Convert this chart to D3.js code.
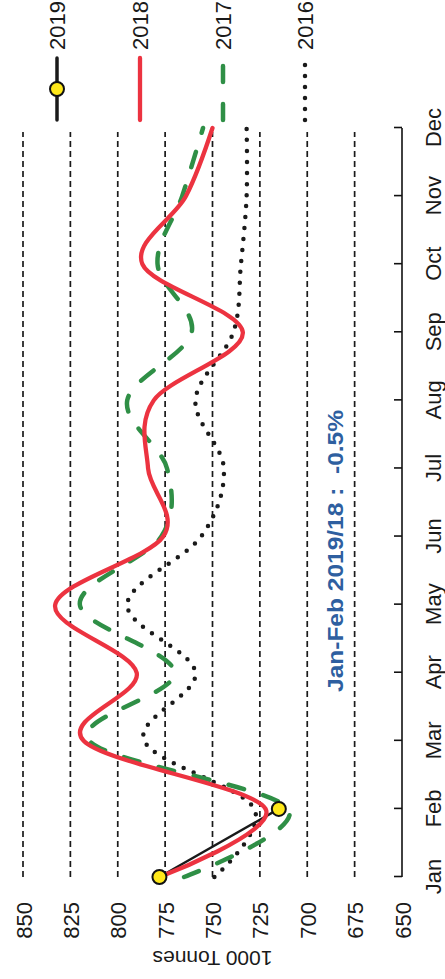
<!DOCTYPE html>
<html>
<head>
<meta charset="utf-8">
<script src="https://cdn.jsdelivr.net/npm/d3@7"></script>
<style>
  html, body { margin: 0; padding: 0; background: #fff; }
  svg { display: block; }
  text { font-family: "Liberation Sans", Arial, sans-serif; }
</style>
</head>
<body>
<svg id="chart" width="445" height="979"></svg>
<script>
// ---- data ----
const months = ["Jan","Feb","Mar","Apr","May","Jun","Jul","Aug","Sep","Oct","Nov","Dec"];
const valueTicks = [650, 675, 700, 725, 750, 775, 800, 825, 850];
const s2019 = [778, 715];
const s2018 = [778, 722, 818, 790, 833, 776, 784, 781, 734, 787, 764, 750];
const s2017 = [765, 710, 815, 770, 820, 777, 774, 795, 761, 779, 766, 755];
const s2016 = [749, 728, 786, 759, 795, 756, 744, 759, 739, 735, 732, 732];
const legendLabels = ["2019", "2018", "2017", "2016"];
const yTitle = "1000 Tonnes";
const note = "Jan-Feb 2019/18 :  -0.5%";

// ---- layout (chart drawn in an unrotated 979x445 frame, then turned 90° CCW) ----
const W = 979, H = 445;
const svg = d3.select("#chart");
const g = svg.append("g").attr("transform", `translate(0,${W}) rotate(-90)`);

const x = d3.scalePoint().domain(months).range([102, 851]);
const y = d3.scaleLinear().domain([650, 850]).range([402, 23]);

// gridlines
g.append("g").selectAll("line")
  .data(valueTicks.filter(v => v > 650))
  .join("line")
  .attr("x1", x("Jan")).attr("x2", x("Dec") - 4)
  .attr("y1", d => y(d)).attr("y2", d => y(d))
  .attr("stroke", "#1a1a1a").attr("stroke-width", 1.7)
  .attr("stroke-dasharray", "6,4");

// category axis
const axis = d3.axisBottom(x).tickSize(8).tickSizeOuter(0).tickPadding(0);
const ax = g.append("g").attr("transform", `translate(0,${y(650)})`).call(axis);
ax.select(".domain").attr("stroke", "#111").attr("stroke-width", 1.6)
  .attr("d", `M${x("Jan")},0H${x("Dec")}`);
ax.selectAll(".tick line").attr("y2", -8).attr("stroke", "#111").attr("stroke-width", 1.6);
ax.selectAll(".tick text").attr("y", 39).attr("dy", 0)
  .attr("font-size", 22).attr("fill", "#1a1a1a")
  .attr("font-family", "Liberation Sans, Arial, sans-serif");

// value labels
const vAxis = d3.axisLeft(y).tickValues(valueTicks).tickSize(0).tickPadding(0);
const vx = g.append("g").attr("transform", "translate(77,1)").call(vAxis);
vx.select(".domain").remove();
vx.selectAll(".tick text").attr("font-size", 22).attr("fill", "#1a1a1a")
  .attr("font-family", "Liberation Sans, Arial, sans-serif");

// axis title
g.append("text")
  .attr("transform", `translate(21,${(y(650) + y(850)) / 2}) rotate(-90)`)
  .attr("text-anchor", "middle").attr("dy", "0.35em")
  .attr("font-size", 21).attr("fill", "#1a1a1a")
  .text(yTitle);

// series
const line = d3.line()
  .x((d, i) => x(months[i]))
  .y(d => y(d))
  .curve(d3.curveCardinal.tension(0));

const styles = {
  "2016": { stroke: "#1a1a1a", width: 4.5, dash: "0,11", cap: "round" },
  "2017": { stroke: "#2f8f46", width: 4.5, dash: "16,20", cap: "round" },
  "2018": { stroke: "#ec3340", width: 4.3, dash: null,    cap: "round" },
  "2019": { stroke: "#1a1a1a", width: 2.5, dash: null,    cap: "round" }
};

function drawSeries(data, key, curve) {
  const st = styles[key];
  g.append("path")
    .datum(data)
    .attr("fill", "none")
    .attr("stroke", st.stroke)
    .attr("stroke-width", st.width)
    .attr("stroke-linecap", st.cap)
    .attr("stroke-linejoin", "round")
    .attr("stroke-dasharray", st.dash)
    .attr("d", curve ? line : d3.line().x((d, i) => x(months[i])).y(d => y(d)));
}

drawSeries(s2016, "2016", true);
drawSeries(s2017, "2017", true);
drawSeries(s2019, "2019", false);
drawSeries(s2018, "2018", true);

g.append("g").selectAll("circle")
  .data(s2019)
  .join("circle")
  .attr("cx", (d, i) => x(months[i]))
  .attr("cy", d => y(d))
  .attr("r", 7)
  .attr("fill", "#ffe81a")
  .attr("stroke", "#111")
  .attr("stroke-width", 2);

// annotation
g.append("text")
  .attr("x", 287).attr("y", 343)
  .attr("text-anchor", "start")
  .attr("font-size", 22).attr("font-weight", "bold")
  .attr("fill", "#2e5fa0")
  .attr("textLength", 282)
  .attr("lengthAdjust", "spacingAndGlyphs")
  .style("white-space", "pre")
  .text(note);

// legend
const legendY = [57, 140, 223, 305];
const leg = g.append("g");
legendLabels.forEach((lab, i) => {
  const st = styles[lab];
  const yy = legendY[i];
  leg.append("line")
    .attr("x1", 859).attr("x2", lab === "2016" ? 916 : 921)
    .attr("y1", yy).attr("y2", yy)
    .attr("stroke", st.stroke)
    .attr("stroke-width", lab === "2019" ? 3.5 : st.width)
    .attr("stroke-linecap", st.cap)
    .attr("stroke-dasharray", lab === "2017" ? "16,22" : st.dash);
  if (lab === "2019") {
    leg.append("circle").attr("cx", 890).attr("cy", yy).attr("r", 7)
      .attr("fill", "#ffe81a").attr("stroke", "#111").attr("stroke-width", 2);
  }
  leg.append("text")
    .attr("x", 929).attr("y", yy).attr("dy", "0.35em")
    .attr("font-size", 22).attr("fill", "#1a1a1a")
    .text(lab);
});
</script>
</body>
</html>
